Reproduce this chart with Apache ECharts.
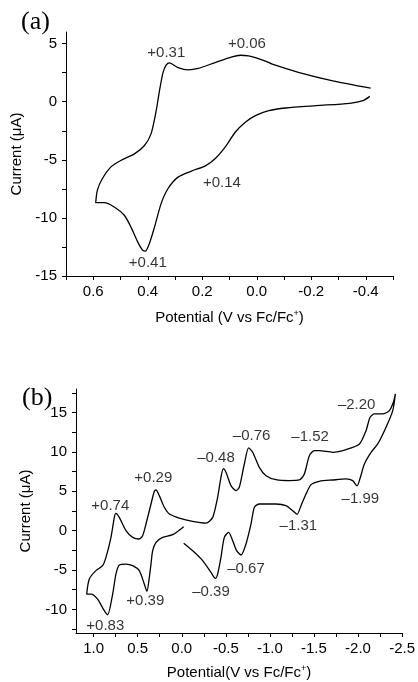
<!DOCTYPE html>
<html>
<head>
<meta charset="utf-8">
<script src="https://cdn.jsdelivr.net/npm/echarts@6/dist/echarts.min.js"></script>
<style>
html,body{margin:0;padding:0;background:#fff;}
#c{width:418px;height:682px;}
</style>
</head>
<body>
<div id="c"></div>
<script>
// ---- Panel (a) data: potential (V vs Fc/Fc+) and current (uA), traced along the sweep ----
var aPotential = [-0.418,-0.279,-0.156,-0.057,-0.032,0.005,0.03,0.06,0.091,0.153,0.215,0.252,0.289,0.314,0.32,0.332,0.344,0.357,0.369,0.388,0.412,0.449,0.499,0.536,0.567,0.585,0.591,
  0.56,0.523,0.486,0.462,0.437,0.419,0.409,0.394,0.375,0.351,0.326,0.289,0.24,0.19,0.153,0.116,0.079,0.042,0.005,-0.044,-0.106,-0.217,-0.341,-0.39,-0.415];
var aCurrent = [1.17,1.8,2.51,3.23,3.5,3.8,3.94,4.0,3.86,3.37,2.86,2.74,2.94,3.29,3.34,3.17,2.51,0.94,-0.77,-2.77,-3.77,-4.49,-5.06,-5.63,-6.63,-7.63,-8.69,
  -8.69,-9.06,-9.77,-10.77,-12.06,-12.77,-12.86,-12.2,-10.77,-8.77,-7.49,-6.49,-5.97,-5.54,-4.91,-3.91,-2.63,-1.77,-1.2,-0.77,-0.54,-0.34,-0.14,0.09,0.46];
var aLabelText = ['+0.31','+0.06','+0.14','+0.41'];
var aLabelX = [0.332,0.036,0.128,0.40];
var aLabelY = [4.23,4.94,-7.0,-13.9];
var aXLabels = [0.6,0.4,0.2,0.0,-0.2,-0.4];
var aXTicks = [0.7,0.6,0.5,0.4,0.3,0.2,0.1,0.0,-0.1,-0.2,-0.3,-0.4,-0.5];
var aYLabels = [-15,-10,-5,0,5];
var aYTicks = [-15,-12.5,-10,-7.5,-5,-2.5,0,2.5,5];

// ---- Panel (b) data ----
var bPotential = [-0.022,0.103,0.217,0.292,0.330,0.349,0.368,0.395,0.425,0.482,0.557,0.633,0.709,0.747,0.784,0.841,0.879,0.955,1.03,1.079,
  1.049,0.974,0.898,0.86,0.803,0.765,0.747,0.709,0.633,0.557,0.482,0.444,0.406,0.349,0.311,0.292,0.255,0.198,0.141,0.028,-0.124,-0.275,
  -0.351,-0.407,-0.445,-0.472,-0.502,-0.559,-0.616,-0.653,-0.71,-0.759,-0.805,-0.88,-0.956,-1.07,-1.221,-1.334,-1.391,-1.448,-1.505,-1.561,
  -1.713,-1.864,-2.016,-2.091,-2.137,-2.186,-2.28,-2.356,-2.401,-2.424,
  -2.394,-2.318,-2.224,-2.148,-2.072,-2.027,-1.989,-1.94,-1.864,-1.713,-1.561,-1.467,-1.41,-1.353,-1.308,-1.259,-1.183,-1.07,-0.88,-0.824,
  -0.786,-0.729,-0.672,-0.623,-0.578,-0.532,-0.483,-0.445,-0.407,-0.381,-0.332,-0.237,-0.143,-0.022];
var bCurrent = [0.51,-0.51,-0.85,-1.48,-2.54,-4.24,-5.93,-7.71,-6.78,-5.08,-4.45,-4.24,-4.36,-5.51,-8.05,-10.68,-10.17,-8.69,-8.05,-8.05,
  -6.14,-5.08,-4.45,-3.39,-0.85,1.69,2.2,1.69,0,-0.85,-1.06,-0.64,0.85,3.39,5.0,5.17,4.45,2.97,2.12,1.61,1.19,0.97,
  1.69,4.24,6.78,7.88,7.42,5.72,5.08,5.51,8.47,10.51,9.96,8.05,6.99,6.48,6.36,6.44,7.2,9.53,10.17,10.17,
  9.96,10.3,11.02,12.71,14.41,14.83,14.83,15.25,16.31,17.37,
  15.25,13.14,11.02,9.96,8.47,6.78,5.68,6.36,6.57,6.44,6.27,5.85,4.66,3.18,2.08,2.54,3.18,3.39,3.39,2.97,
  0.85,-1.69,-3.09,-2.54,-1.27,-0.21,-0.85,-3.39,-5.51,-6.06,-5.3,-3.81,-2.75,-1.61];
var bLabelText = ['+0.74','+0.29','\u20130.48','\u20130.76','\u20131.52','\u20132.20','\u20131.99','\u20131.31','\u20130.67','\u20130.39','+0.39','+0.83'];
var bLabelX = [0.811,0.323,-0.389,-0.793,-1.456,-1.985,-2.027,-1.323,-0.729,-0.332,0.414,0.868];
var bLabelY = [3.18,6.65,9.24,12.08,11.86,16.02,4.03,0.64,-4.83,-7.71,-8.98,-12.08];
var bXLabels = [1.0,0.5,0.0,-0.5,-1.0,-1.5,-2.0,-2.5];
var bXTicks = [1.0,0.75,0.5,0.25,0.0,-0.25,-0.5,-0.75,-1.0,-1.25,-1.5,-1.75,-2.0,-2.25,-2.5];
var bYLabels = [-10,-5,0,5,10,15];
var bYTicks = [-12.5,-10,-7.5,-5,-2.5,0,2.5,5,7.5,10,12.5,15,17.5];

function zip(xs, ys){ return xs.map(function(x,i){ return [x, ys[i]]; }); }
function labels(t, xs, ys){ return t.map(function(s,i){ return {name:s, value:[xs[i], ys[i]]}; }); }

var FONT = '"Liberation Sans", Arial, sans-serif';
var axisCommonX = function(lbl, ticks){
  return {
    type:'value', inverse:true,
    axisLine:{show:true, onZero:false, lineStyle:{color:'#000', width:1}},
    axisTick:{show:true, inside:false, length:4, customValues:ticks, lineStyle:{color:'#000'}},
    axisLabel:{customValues:lbl, margin:8, color:'#000', fontSize:15, fontFamily:FONT,
      formatter:function(v){ return (+v).toFixed(1); }},
    splitLine:{show:false},
    nameLocation:'middle',
    nameTextStyle:{color:'#000', fontSize:15, fontFamily:FONT,
      rich:{sup:{fontSize:9, color:'#000', fontFamily:FONT, verticalAlign:'top', padding:[0,0,8,0]}}}
  };
};
var axisCommonY = function(lbl, ticks){
  return {
    type:'value',
    axisLine:{show:true, onZero:false, lineStyle:{color:'#000', width:1}},
    axisTick:{show:true, inside:false, length:4, customValues:ticks, lineStyle:{color:'#000'}},
    axisLabel:{customValues:lbl, margin:9, color:'#000', fontSize:15, fontFamily:FONT},
    splitLine:{show:false},
    name:'Current (\u03bcA)',
    nameLocation:'middle',
    nameTextStyle:{color:'#000', fontSize:15, fontFamily:FONT}
  };
};

var xa = axisCommonX(aXLabels, aXTicks);
xa.gridIndex = 0; xa.min = -0.5; xa.max = 0.7; xa.name = 'Potential (V vs Fc/Fc{sup|+})'; xa.nameGap = 33;
var xb = axisCommonX(bXLabels, bXTicks);
xb.gridIndex = 1; xb.min = -2.5; xb.max = 1.2; xb.name = 'Potential(V vs Fc/Fc{sup|+})'; xb.nameGap = 31;
var ya = axisCommonY(aYLabels, aYTicks);
ya.gridIndex = 0; ya.min = -15; ya.max = 6; ya.nameGap = 41;
var yb = axisCommonY(bYLabels, bYTicks);
yb.gridIndex = 1; yb.min = -13; yb.max = 18; yb.nameGap = 43;

var labelSeries = function(idx, data){
  return {
    type:'scatter', xAxisIndex:idx, yAxisIndex:idx, symbolSize:1,
    itemStyle:{color:'rgba(0,0,0,0)'}, silent:true,
    label:{show:true, position:'inside', formatter:'{b}', color:'#000', fontSize:15, fontFamily:FONT},
    data:data
  };
};

var chart = echarts.init(document.getElementById('c'), null, {renderer:'canvas'});
chart.setOption({
  animation:false,
  backgroundColor:'#fff',
  grid:[
    {left:66, top:32, width:327, height:244},
    {left:76, top:389, width:327, height:244}
  ],
  xAxis:[xa, xb],
  yAxis:[ya, yb],
  graphic:[
    {type:'text', left:21, top:9, style:{text:'(a)', font:'26px "Liberation Serif", "Times New Roman", serif', fill:'#000'}},
    {type:'text', left:22, top:385, style:{text:'(b)', font:'26px "Liberation Serif", "Times New Roman", serif', fill:'#000'}}
  ],
  series:[
    {type:'line', xAxisIndex:0, yAxisIndex:0, data:zip(aPotential, aCurrent), showSymbol:false, smooth:0.25,
      lineStyle:{color:'#000', width:1.3}},
    {type:'line', xAxisIndex:1, yAxisIndex:1, data:zip(bPotential, bCurrent), showSymbol:false, smooth:0.25,
      lineStyle:{color:'#000', width:1.3}},
    labelSeries(0, labels(aLabelText, aLabelX, aLabelY)),
    labelSeries(1, labels(bLabelText, bLabelX, bLabelY))
  ]
});
</script>
</body>
</html>
